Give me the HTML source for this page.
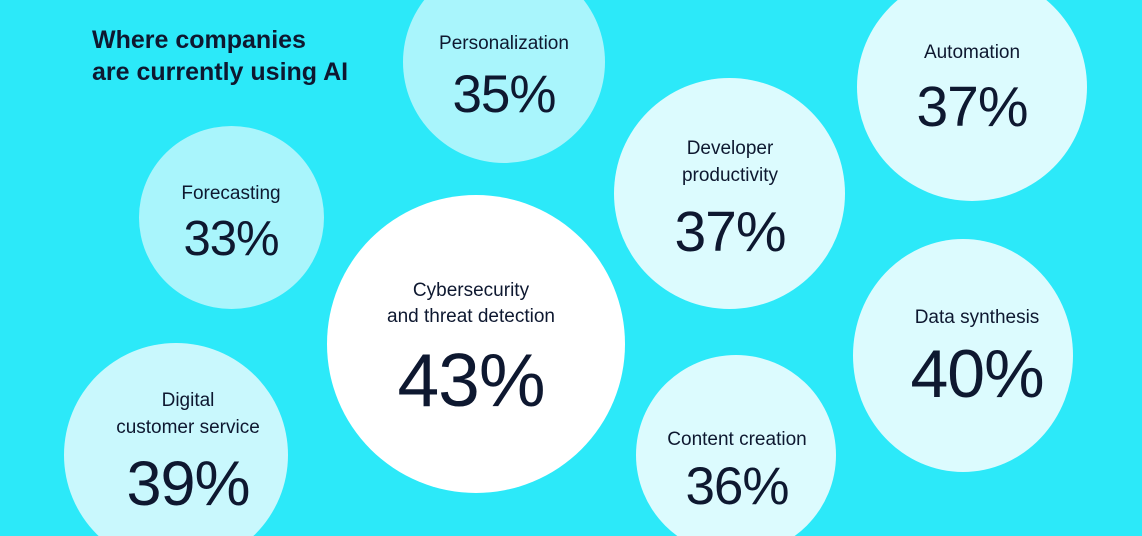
<!DOCTYPE html>
<html style="overflow:hidden;height:536px"><head><meta charset="utf-8"><style>
html,body{margin:0;padding:0;overflow:hidden}
body{width:1142px;height:536px;background:#2ce9f9;font-family:"Liberation Sans",sans-serif;color:#0e1830}
#w{position:relative;width:1142px;height:536px;overflow:hidden}
.c{position:absolute;border-radius:50%}
.x{position:absolute;width:400px;text-align:center;white-space:nowrap}
.l{font-size:19px;height:26px;line-height:26px}
.n{font-weight:300;letter-spacing:-1px}
.t{position:absolute;left:92px;top:24px;font-size:25px;font-weight:bold;line-height:32px}
</style></head><body><div id="w">
<div class="t">Where companies<br>are currently using AI</div>
<div class="c" style="left:403px;top:-39px;width:202px;height:202px;background:#a9f5fc"></div>
<div class="c" style="left:857px;top:-27px;width:230px;height:228px;background:#dcfbfe"></div>
<div class="c" style="left:139px;top:126px;width:185px;height:183px;background:#a9f5fc"></div>
<div class="c" style="left:614px;top:78px;width:231px;height:231px;background:#dcfbfe"></div>
<div class="c" style="left:327px;top:195px;width:298px;height:298px;background:#ffffff"></div>
<div class="c" style="left:853px;top:239px;width:220px;height:233px;background:#dcfbfe"></div>
<div class="c" style="left:64px;top:343px;width:224px;height:224px;background:#c9f8fd"></div>
<div class="c" style="left:636px;top:355px;width:200px;height:200px;background:#dcfbfe"></div>

<div class="x l" style="left:304px;top:31px">Personalization</div>
<div class="x n" style="left:304px;top:65px;font-size:53px;line-height:60px">35%</div>
<div class="x l" style="left:772px;top:40px">Automation</div>
<div class="x n" style="left:772px;top:74px;font-size:57px;line-height:66px">37%</div>
<div class="x l" style="left:31px;top:181px">Forecasting</div>
<div class="x n" style="left:31px;top:209px;font-size:49px;line-height:60px">33%</div>
<div class="x l" style="left:530px;top:136px">Developer</div>
<div class="x l" style="left:530px;top:163px">productivity</div>
<div class="x n" style="left:530px;top:200px;font-size:57px;line-height:64px">37%</div>
<div class="x l" style="left:271px;top:278px">Cybersecurity</div>
<div class="x l" style="left:271px;top:304px">and threat detection</div>
<div class="x n" style="left:271px;top:335px;font-size:75px;line-height:90px">43%</div>
<div class="x l" style="left:777px;top:305px">Data synthesis</div>
<div class="x n" style="left:777px;top:336px;font-size:68px;line-height:76px">40%</div>
<div class="x l" style="left:-12px;top:388px">Digital</div>
<div class="x l" style="left:-12px;top:415px">customer service</div>
<div class="x n" style="left:-12px;top:449px;font-size:63px;line-height:70px">39%</div>
<div class="x l" style="left:537px;top:427px">Content creation</div>
<div class="x n" style="left:537px;top:456px;font-size:53px;line-height:62px">36%</div>
</div></body></html>
